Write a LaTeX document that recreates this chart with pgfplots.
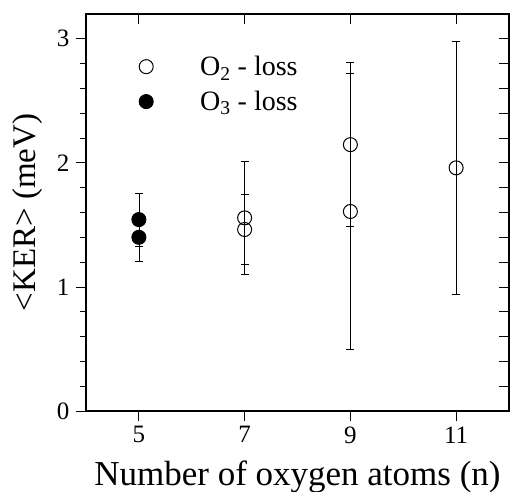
\documentclass[border=0pt]{standalone}
\usepackage{fontspec}
\setmainfont{Liberation Serif}
\usepackage{pgfplots}
\pgfplotsset{compat=1.18}
\pgfplotstableread{
x y e
7 1.557 0.455
7 1.463 0.282
9 2.147 0.660
9 1.608 1.110
11 1.960 1.020
}\otwo
\pgfplotstableread{
x y e
5 1.543 0.215
5 1.400 0.197
}\othree
\begin{document}
\begin{tikzpicture}[x=1pt,y=1pt]
\path[use as bounding box] (-86,-81) rectangle (425,411);
\begin{axis}[
  at={(0,0)}, anchor=south west,
  width=423pt, height=397pt, scale only axis,
  xmin=4, xmax=12, ymin=0, ymax=3.2,
  xtick={5,7,9,11}, ytick={0,1,2,3},
  minor y tick num=4,
  xtick pos=left, ytick pos=left,
  tick align=outside,
  major tick length=10pt, minor tick length=6pt,
  tick style={black, line width=0.8pt},
  axis line style={line width=1.2pt},
  ticklabel style={font=\fontsize{25}{25}\selectfont},
  yticklabel style={xshift=-3pt},
  xticklabel style={yshift=-2pt},
  /pgf/number format/assume math mode=true,
  xlabel={Number of oxygen atoms (n)},
  xlabel style={font=\fontsize{35}{35}\selectfont, at={(axis description cs:0.5,0)}, anchor=base, yshift=-74pt},
  ylabel={<KER> (meV)},
  ylabel style={font=\fontsize{33}{33}\selectfont, at={(axis description cs:0,0.5)}, anchor=base, yshift=50pt},
  legend style={at={(axis description cs:0,1)}, anchor=north west, xshift=53pt, yshift=-40pt, draw=none, fill=none, font=\fontsize{28}{28}\selectfont, row sep=10pt, inner sep=0pt,
    /tikz/every odd column/.append style={column sep=45pt}},
  legend cell align=left,
]
\addplot[only marks, black, mark=o, mark size=7pt, mark options={line width=1pt, fill=none},
  error bars/.cd, y dir=both, y explicit,
  error bar style={line width=0.6pt},
  error mark options={rotate=90, mark size=4pt, line width=0.6pt}]
  table[x=x, y=y, y error=e] {\otwo};
\addlegendentry{O\textsubscript{2} - loss}
\addplot[only marks, black, mark=*, mark size=7pt, mark options={line width=1pt, fill=black},
  error bars/.cd, y dir=both, y explicit,
  error bar style={line width=0.6pt},
  error mark options={rotate=90, mark size=4pt, line width=0.6pt}]
  table[x=x, y=y, y error=e] {\othree};
\addlegendentry{O\textsubscript{3} - loss}
\end{axis}
\begin{axis}[
  at={(0,0)}, anchor=south west,
  width=423pt, height=397pt, scale only axis,
  xmin=4, xmax=12, ymin=0, ymax=3.2,
  xtick={5,7,9,11}, ytick={0,1,2,3},
  minor y tick num=4,
  xtick pos=right, ytick pos=right,
  tick align=inside,
  major tick length=10pt, minor tick length=10pt,
  tick style={black, line width=0.8pt},
  axis line style={line width=1.2pt},
  xticklabels={}, yticklabels={},
]
\end{axis}
\end{tikzpicture}
\end{document}
